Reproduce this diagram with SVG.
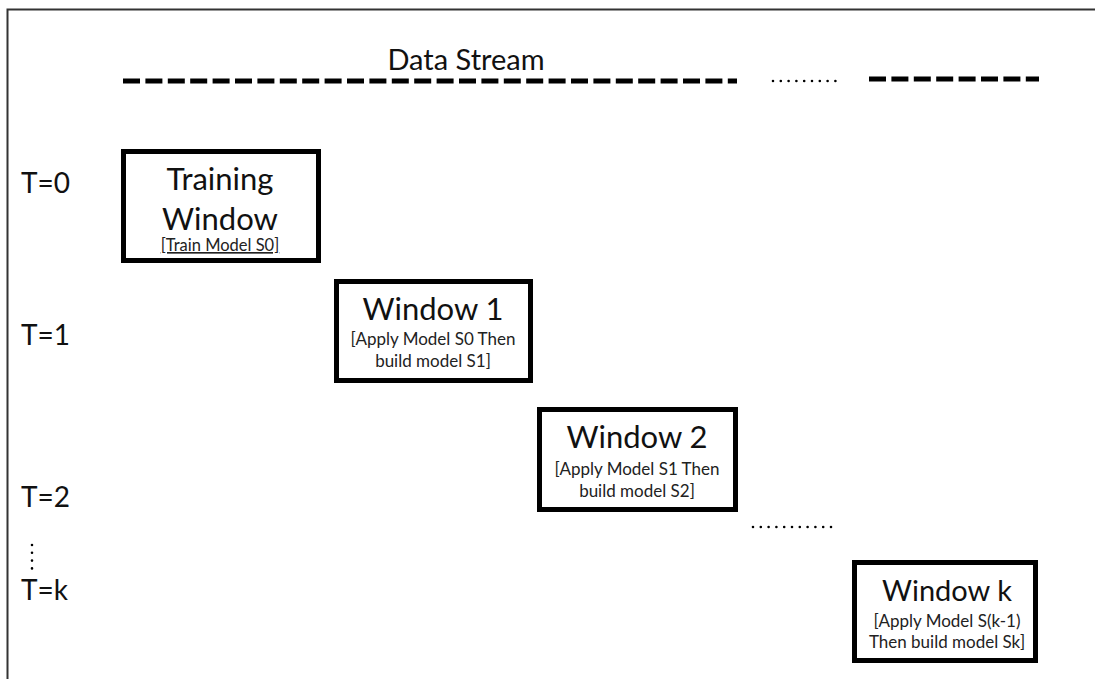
<svg xmlns="http://www.w3.org/2000/svg" width="1095" height="679" viewBox="0 0 1095 679">
<style>
text{font-family:Lato,"Open Sans","Liberation Sans",sans-serif;fill:#111;text-anchor:middle}
.big{font-size:31px}
.sub{font-size:17px;fill:#222}
.t{font-size:28px;text-anchor:start}
.box{fill:#fff;stroke:#000;stroke-width:5}
.dash{stroke:#000;stroke-width:5;fill:none}
.dots{stroke:#000;stroke-width:2.6;stroke-linecap:round;stroke-dasharray:0 7.8;fill:none}
</style>
<rect width="1095" height="679" fill="#fff"/>
<path d="M7.5 679 V9.5 H1095" fill="none" stroke="#333" stroke-width="2"/>
<text x="466" y="70" style="font-size:29px">Data Stream</text>
<g id="connectors">
<line class="dash" x1="123" y1="81" x2="737" y2="81" stroke-dasharray="17 5.4"/>
<line class="dots" x1="773" y1="81" x2="837" y2="81"/>
<line class="dash" x1="869" y1="79" x2="1039" y2="79" stroke-dasharray="17 5.4"/>
<line class="dots" x1="753" y1="527" x2="832" y2="527"/>
<line class="dots" x1="32" y1="545" x2="32" y2="570"/>
</g>
<g id="labels">
<text class="t" x="21" y="193">T=0</text>
<text class="t" x="21" y="345">T=1</text>
<text class="t" x="21" y="507">T=2</text>
<text class="t" x="21" y="600">T=k</text>
</g>
<g id="training-window">
<rect class="box" x="123.5" y="151.5" width="195" height="109"/>
<text class="big" x="220" y="190">Training</text>
<text class="big" x="220" y="230">Window</text>
<text class="sub" x="220" y="251" style="font-size:16.5px" text-decoration="underline">[Train Model S0]</text>
</g>
<g id="window-1">
<rect class="box" x="336.5" y="281.5" width="194" height="99"/>
<text class="big" x="433" y="320">Window 1</text>
<text class="sub" x="433" y="345">[Apply Model S0 Then</text>
<text class="sub" x="433" y="367">build model S1]</text>
</g>
<g id="window-2">
<rect class="box" x="539.5" y="409.5" width="196" height="100"/>
<text class="big" x="637" y="448">Window 2</text>
<text class="sub" x="637" y="475">[Apply Model S1 Then</text>
<text class="sub" x="637" y="497">build model S2]</text>
</g>
<g id="window-k">
<rect class="box" x="854.5" y="562.5" width="181" height="98"/>
<text class="big" x="947" y="601" style="font-size:29px">Window k</text>
<text class="sub" x="947" y="627">[Apply Model S(k-1)</text>
<text class="sub" x="947" y="648">Then build model Sk]</text>
</g>
</svg>
